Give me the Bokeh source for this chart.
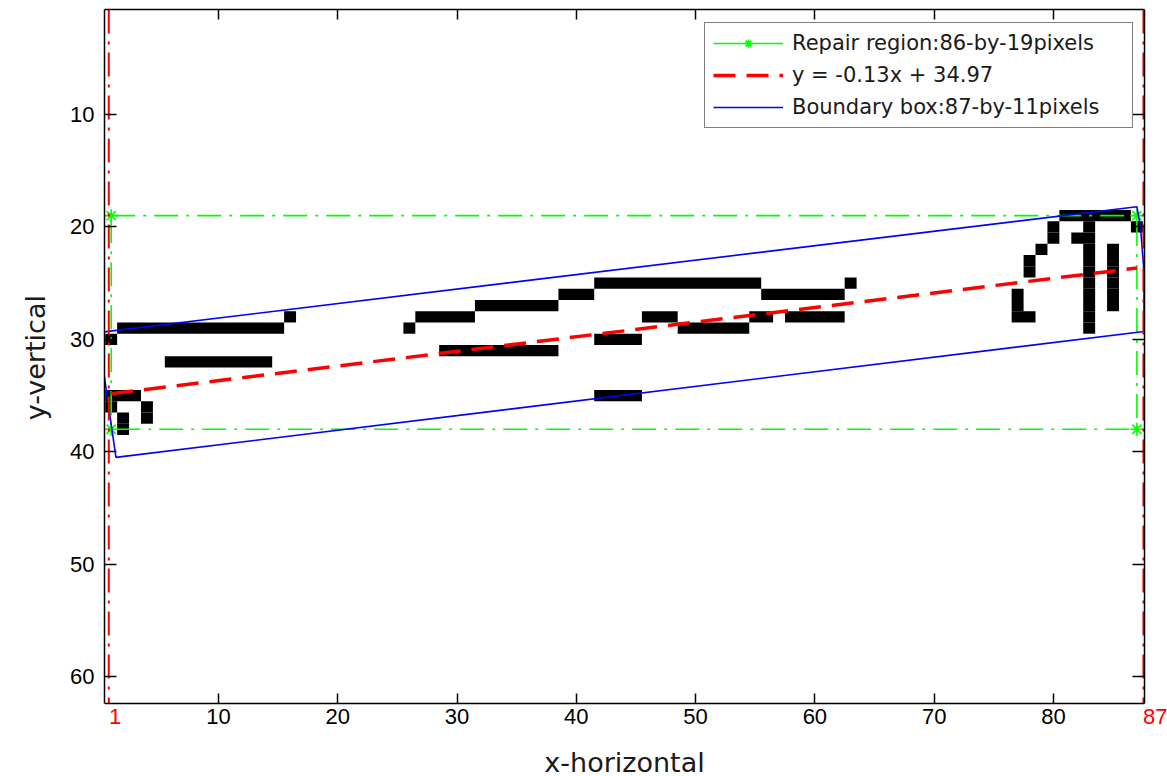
from bokeh.plotting import figure
from bokeh.models import (Range1d, LinearAxis, FixedTicker, Legend,
                          LegendItem, ColumnDataSource, Title)
from bokeh.embed import file_html
from bokeh.resources import INLINE

# ---------------- data ----------------
x_ticks = [10, 20, 30, 40, 50, 60, 70, 80]
y_ticks = [10, 20, 30, 40, 50, 60]
x_lim = [0.44, 87.6]
y_lim = [0.66, 62.35]          # image axis: y grows downward

# black image pixels as runs: row, first column, last column
pix_row = [19, 20, 20, 20, 21, 21, 22, 22, 22, 23, 23, 23, 24, 24, 24,
           25, 25, 25, 25, 26, 26, 26, 26, 26, 27, 27, 27, 27,
           28, 28, 28, 28, 28, 28, 28, 29, 29, 29, 29, 30, 30, 31, 32,
           35, 35, 36, 36, 37, 37, 38]
pix_x0 = [81, 80, 83, 87, 80, 82, 79, 83, 85, 78, 83, 85, 78, 83, 85,
          42, 63, 83, 85, 39, 56, 77, 83, 85, 32, 77, 83, 85,
          16, 27, 46, 55, 58, 77, 83, 2, 26, 49, 83, 1, 42, 29, 6,
          1, 42, 1, 4, 2, 4, 2]
pix_x1 = [86, 80, 83, 87, 80, 83, 79, 83, 85, 78, 83, 85, 78, 83, 85,
          55, 63, 83, 85, 41, 62, 77, 83, 85, 38, 77, 83, 85,
          16, 31, 48, 56, 62, 78, 83, 15, 26, 54, 83, 1, 45, 38, 14,
          3, 45, 1, 4, 2, 4, 2]

# repair region corners
region_x = [1, 87, 87, 1, 1]
region_y = [19, 19, 38, 38, 19]

# fitted line
fit_slope = -0.13
fit_intercept = 34.97
fit_x = [1, 87]

# rotated boundary box, as it shows inside the axes box
box_x = [-0.1, 87.0, 87.3, 87.6, 87.6, 1.4, -0.1]
box_y = [29.4, 18.2, 20.0, 24.0, 29.3, 40.5, 29.4]

# red column markers
col_line_x = [0.8, 87.55]
col_label_x = [1.32, 88.56]
col_label_text = ["1", "87"]

legend_labels = ["Repair region:86-by-19pixels",
                 "y = %.2fx + %.2f" % (fit_slope, fit_intercept),
                 "Boundary box:87-by-11pixels"]

GREEN = "#00ff00"
RED = "#ff0000"
BLUE = "#0000ff"

# ---------------- layout ----------------
W, H = 1167, 776
BOX_LEFT, BOX_RIGHT = 102, 1143.5       # pixel columns of the axes box
BOX_TOP, BOX_BOTTOM = 9, 702.5          # pixel rows of the axes box
px_x = (BOX_RIGHT - BOX_LEFT) / (x_lim[1] - x_lim[0])
px_y = (BOX_BOTTOM - BOX_TOP) / (y_lim[1] - y_lim[0])
# the drawing frame runs to the right and bottom page edges, so that the
# texts under the box (drawn by axes pinned to the box edges) are not clipped
frame_right_val = x_lim[0] + (W - BOX_LEFT) / px_x
frame_bottom_val = y_lim[0] + (H - BOX_TOP) / px_y

p = figure(width=W, height=H, output_backend="svg", toolbar_location=None,
           x_range=Range1d(x_lim[0], frame_right_val),
           y_range=Range1d(frame_bottom_val, y_lim[0]),
           min_border_left=BOX_LEFT, min_border_right=0, min_border_top=BOX_TOP,
           min_border_bottom=0, background_fill_color="white",
           border_fill_color="white")
p.outline_line_color = None
p.xgrid.visible = False
p.ygrid.visible = False

# pixels
pix_src = ColumnDataSource(dict(
    left=[a - 0.5 for a in pix_x0],
    right=[b + 0.5 for b in pix_x1],
    top=[r - 0.5 for r in pix_row],
    bottom=[r + 0.5 for r in pix_row]))
p.quad(left="left", right="right", top="top", bottom="bottom", source=pix_src,
       fill_color="black", line_color=None)

# repair region
p.line(region_x, region_y, line_color=GREEN, line_width=1.6, line_dash="24 8 3 8")
stars = p.scatter(region_x[:4], region_y[:4], marker="asterisk", size=13,
                  line_color=GREEN, line_width=1.6)
# legend-only solid line (no visible points)
leg_green = p.line(x=[float("nan")], y=[float("nan")], line_color=GREEN,
                   line_width=1.6)

# boundary box
box_r = p.line(box_x, box_y, line_color=BLUE, line_width=1.6)

# fitted line
fit_y = [fit_slope * x + fit_intercept for x in fit_x]
fit_r = p.line(fit_x, fit_y, line_color=RED, line_width=3.5, line_dash="22 11")

# red vertical column markers, spanning the axes box
p.segment(x0=col_line_x, x1=col_line_x,
          y0=[y_lim[0]] * len(col_line_x), y1=[y_lim[1]] * len(col_line_x),
          line_color=RED, line_width=2, line_dash="24 8 3 8")

# axes
for ax in (p.xaxis[0], p.yaxis[0]):
    ax.major_tick_out = 0
    ax.minor_tick_line_color = None
    ax.axis_line_width = 1.5
    ax.major_tick_line_width = 1.5
    ax.major_label_text_font = "Liberation Sans"
    ax.major_label_text_font_size = "22px"
    ax.major_label_text_color = "black"
    ax.axis_label_text_font = "DejaVu Sans"
    ax.axis_label_text_font_style = "normal"
    ax.axis_label_text_font_size = "27px"
    ax.axis_label_text_color = "#1a1a1a"

xa = p.xaxis[0]
xa.fixed_location = y_lim[1]
xa.bounds = (x_lim[0], x_lim[1])
xa.ticker = FixedTicker(ticks=x_ticks)
xa.major_tick_in = 10
xa.major_label_standoff = 6
xa.axis_label = "x-horizontal"
xa.axis_label_standoff = 19

ya = p.yaxis[0]
ya.bounds = (y_lim[0], y_lim[1])
ya.ticker = FixedTicker(ticks=y_ticks)
ya.major_tick_in = 12
ya.major_label_standoff = 10

# y label as a side title so it can be centred on the axes box
box_mid = (BOX_TOP + BOX_BOTTOM) / 2
half_label = 64
ytitle = Title(text="y-vertical", align="left", offset=H - box_mid - half_label,
               standoff=34, text_font="DejaVu Sans", text_font_size="27px",
               text_font_style="normal", text_color="#1a1a1a")
p.add_layout(ytitle, "left")

# red column labels, on an axis pinned to the bottom edge of the box
red_ax = LinearAxis(ticker=FixedTicker(ticks=col_label_x),
                    major_label_overrides={v: t for v, t in zip(col_label_x, col_label_text)},
                    fixed_location=y_lim[1], axis_line_color=None,
                    major_tick_line_color=None, minor_tick_line_color=None,
                    major_tick_in=0, major_tick_out=0, major_label_standoff=6,
                    major_label_text_color=RED,
                    major_label_text_font="Liberation Sans",
                    major_label_text_font_size="22px")
p.add_layout(red_ax, "below")

# mirrored ticks on top and right
top_ax = LinearAxis(ticker=FixedTicker(ticks=x_ticks), major_tick_in=10,
                    major_tick_out=0, major_label_text_font_size="1px",
                    major_label_text_color=None, bounds=(x_lim[0], x_lim[1]),
                    major_label_standoff=0, minor_tick_line_color=None,
                    axis_line_width=1.5, major_tick_line_width=1.5)
p.add_layout(top_ax, "above")
right_ax = LinearAxis(ticker=FixedTicker(ticks=y_ticks), major_tick_in=12,
                      major_tick_out=0, major_label_text_font_size="1px",
                      major_label_text_color=None, bounds=(y_lim[0], y_lim[1]),
                      fixed_location=x_lim[1],
                      major_label_standoff=0, minor_tick_line_color=None,
                      axis_line_width=1.5, major_tick_line_width=1.5)
p.add_layout(right_ax, "right")

# legend (bottom-left corner given in pixels from the frame's bottom-left)
legend = Legend(items=[
    LegendItem(label=legend_labels[0], renderers=[leg_green, stars]),
    LegendItem(label=legend_labels[1], renderers=[fit_r]),
    LegendItem(label=legend_labels[2], renderers=[box_r]),
], location=(600, 648), padding=8, spacing=8,
    glyph_width=70, glyph_height=20, label_height=20, label_width=332,
    label_standoff=9, border_line_color="black", border_line_width=1.5,
    background_fill_color="white", background_fill_alpha=1.0,
    label_text_font="DejaVu Sans", label_text_font_size="21px",
    label_text_color="#1a1a1a")
p.add_layout(legend)

open("out.html", "w").write(file_html(p, INLINE))
